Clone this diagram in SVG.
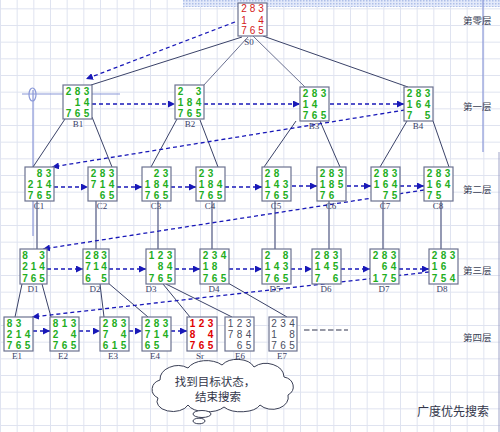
<svg xmlns="http://www.w3.org/2000/svg" width="500" height="432" viewBox="0 0 500 432">
<defs>
<pattern id="grid" patternUnits="userSpaceOnUse" x="0" y="8.33" width="16.667" height="16.667">
<path d="M0.5 0V16.667M0 0.5H16.667" fill="none" stroke="#dfe3f0" stroke-width="1"/>
</pattern>
<pattern id="dots" patternUnits="userSpaceOnUse" width="3" height="3">
<rect width="3" height="3" fill="#e4eafa"/>
<rect width="1.5" height="1.5" fill="#aebfe8"/>
</pattern>
<marker id="ah" viewBox="0 0 8 8" refX="8" refY="4" markerWidth="7" markerHeight="7" markerUnits="userSpaceOnUse" orient="auto">
<path d="M0 0L8 4L0 8z" fill="#1818b8"/>
</marker>
<style>
.box{fill:#ffffff;stroke:#6c7290;stroke-width:1.2}
.g{font-family:"Liberation Sans",Arial,sans-serif;font-size:10px;font-weight:bold;fill:#1fae1f;text-anchor:middle}
.r{font-family:"Liberation Sans",Arial,sans-serif;font-size:10px;fill:#d42020;text-anchor:middle}
.rb{font-family:"Liberation Sans",Arial,sans-serif;font-size:10px;font-weight:bold;fill:#e00000;text-anchor:middle}
.k{font-family:"Liberation Sans",Arial,sans-serif;font-size:10px;fill:#4a4e60;text-anchor:middle}
.lbl{font-family:"Liberation Serif","Times New Roman",serif;font-size:9px;fill:#3a4268;text-anchor:middle}
.layer{font-family:"Liberation Sans","Noto Sans CJK SC",sans-serif;font-size:9.5px;fill:#3a3f55}
.cjk{font-family:"Liberation Sans","Noto Sans CJK SC",sans-serif;fill:#33364a}
.dash{fill:none;stroke:#1818b8;stroke-width:1.3;stroke-dasharray:4 3;marker-end:url(#ah)}
.e1{fill:none;stroke:#3a4268;stroke-width:1}
.e2{fill:none;stroke:#6a7090;stroke-width:1}
.ev{fill:none;stroke:#7a80a0;stroke-width:1.6}
.deco{fill:none;stroke:#8a98d8;stroke-width:1.2}
</style>
</defs>
<rect width="500" height="432" fill="#ffffff"/>
<rect width="500" height="432" fill="url(#grid)"/>
<rect x="183" y="0" width="317" height="7" fill="url(#dots)"/>
<g id="decor">
<line x1="483" y1="0" x2="483" y2="152" class="deco"/>
<line x1="499" y1="152" x2="499" y2="432" stroke="#a0a4c8" stroke-width="1"/>
<line x1="22" y1="94" x2="120" y2="94" class="deco"/>
<line x1="33" y1="90" x2="33" y2="236" class="deco"/>
<ellipse cx="32.5" cy="94.5" rx="3.5" ry="6.5" class="deco"/>
</g>
<g id="connectors">
<line x1="242" y1="37" x2="91" y2="85" class="e1" stroke-width="1.3"/>
<line x1="248" y1="37" x2="203" y2="86" class="e2"/>
<line x1="253" y1="36" x2="305" y2="87" class="e2"/>
<line x1="263" y1="36" x2="408" y2="87" class="e1" stroke-width="1.3"/>
<line x1="65" y1="119" x2="33" y2="167" class="e1"/>
<line x1="92" y1="117" x2="112" y2="167" class="e1"/>
<line x1="177" y1="119" x2="151" y2="167" class="e1"/>
<line x1="200" y1="120" x2="218" y2="167" class="e1"/>
<line x1="296" y1="121" x2="264" y2="167" class="e1"/>
<line x1="320" y1="121" x2="340" y2="167" class="e1"/>
<line x1="407" y1="121" x2="380" y2="167" class="e1"/>
<line x1="433" y1="121" x2="449" y2="167" class="e1"/>
<line x1="37" y1="201" x2="37" y2="249" class="ev"/>
<line x1="96" y1="201" x2="96" y2="249" class="ev"/>
<line x1="158" y1="201" x2="158" y2="249" class="ev"/>
<line x1="212" y1="201" x2="212" y2="249" class="ev"/>
<line x1="275" y1="201" x2="275" y2="249" class="ev"/>
<line x1="329" y1="201" x2="329" y2="249" class="ev"/>
<line x1="383" y1="201" x2="383" y2="249" class="ev"/>
<line x1="441" y1="201" x2="441" y2="249" class="ev"/>
<line x1="22" y1="284" x2="15" y2="317" class="e1"/>
<line x1="42" y1="284" x2="51" y2="317" class="e1"/>
<line x1="100" y1="284" x2="104" y2="317" class="e1"/>
<line x1="107" y1="282" x2="148" y2="317" class="e1"/>
<line x1="163" y1="284" x2="190" y2="317" class="e1"/>
<line x1="166" y1="284" x2="232" y2="317" class="e1"/>
<line x1="228" y1="283" x2="287" y2="317" class="e1"/>
<path d="M235 22L86 79" class="dash"/>
<path d="M92 104H175" class="dash"/>
<path d="M204 104H300" class="dash"/>
<path d="M330 104H404" class="dash"/>
<path d="M405 110L52 167" class="dash"/>
<path d="M54 187H88" class="dash"/>
<path d="M117 187H142" class="dash"/>
<path d="M171 187H196" class="dash"/>
<path d="M225 187H262" class="dash"/>
<path d="M292 186H317" class="dash"/>
<path d="M347 186H371" class="dash"/>
<path d="M400 186H424" class="dash"/>
<path d="M424 190L43 249" class="dash"/>
<path d="M47 269H83" class="dash"/>
<path d="M109 269H146" class="dash"/>
<path d="M175 269H200" class="dash"/>
<path d="M229 269H262" class="dash"/>
<path d="M291 269H312" class="dash"/>
<path d="M341 269H370" class="dash"/>
<path d="M399 269H429" class="dash"/>
<path d="M429 272L32 317" class="dash"/>
<path d="M33 331H50" class="dash"/>
<path d="M79 331H100" class="dash"/>
<path d="M129 331H142" class="dash"/>
<path d="M171 331H187" class="dash"/>
<line x1="304" y1="330" x2="348" y2="330" stroke="#30344e" stroke-width="1.1" stroke-dasharray="5.5 2.5"/>
</g>
<g id="S0"><rect x="238" y="3" width="29" height="33" class="box"/>
<text class="r" x="244 252.5 261" y="12">283</text><text class="r" x="244 261" y="23.5">14</text><text class="r" x="244 252.5 261" y="34">765</text>
<text class="lbl" x="249" y="45" font-size="8.5">S0</text></g>
<g id="B1"><rect x="63" y="85" width="29" height="34" class="box"/>
<text class="g" x="68.5 77.5 86.5" y="94.5">283</text><text class="g" x="77.5 86.5" y="106">14</text><text class="g" x="68.5 77.5 86.5" y="117">765</text>
<text class="lbl" x="78" y="127">B1</text></g>
<g id="B2"><rect x="175" y="85" width="29" height="34" class="box"/>
<text class="g" x="180.5 198.5" y="94.5">23</text><text class="g" x="180.5 189.5 198.5" y="106">184</text><text class="g" x="180.5 189.5 198.5" y="117">765</text>
<text class="lbl" x="190" y="127">B2</text></g>
<g id="B3"><rect x="300" y="87" width="29" height="34" class="box"/>
<text class="g" x="305.5 314.5 323.5" y="96.5">283</text><text class="g" x="305.5 314.5" y="108">14</text><text class="g" x="305.5 314.5 323.5" y="119">765</text>
<text class="lbl" x="314" y="129">B3</text></g>
<g id="B4"><rect x="404" y="87" width="29" height="34" class="box"/>
<text class="g" x="409.5 418.5 427.5" y="96.5">283</text><text class="g" x="409.5 418.5 427.5" y="108">164</text><text class="g" x="409.5 427.5" y="119">75</text>
<text class="lbl" x="418" y="129">B4</text></g>
<g id="C1"><rect x="25" y="167" width="29" height="34" class="box"/>
<text class="g" x="39.5 48.5" y="176.5">83</text><text class="g" x="30.5 39.5 48.5" y="188">214</text><text class="g" x="30.5 39.5 48.5" y="199">765</text>
<text class="lbl" x="39" y="209">C1</text></g>
<g id="C2"><rect x="88" y="167" width="29" height="34" class="box"/>
<text class="g" x="93.5 102.5 111.5" y="176.5">283</text><text class="g" x="93.5 102.5 111.5" y="188">714</text><text class="g" x="102.5 111.5" y="199">65</text>
<text class="lbl" x="102" y="209">C2</text></g>
<g id="C3"><rect x="142" y="167" width="29" height="34" class="box"/>
<text class="g" x="156.5 165.5" y="176.5">23</text><text class="g" x="147.5 156.5 165.5" y="188">184</text><text class="g" x="147.5 156.5 165.5" y="199">765</text>
<text class="lbl" x="156" y="209">C3</text></g>
<g id="C4"><rect x="196" y="167" width="29" height="34" class="box"/>
<text class="g" x="201.5 210.5" y="176.5">23</text><text class="g" x="201.5 210.5 219.5" y="188">184</text><text class="g" x="201.5 210.5 219.5" y="199">765</text>
<text class="lbl" x="210" y="209">C4</text></g>
<g id="C5"><rect x="262" y="167" width="29" height="34" class="box"/>
<text class="g" x="267.5 276.5" y="176.5">28</text><text class="g" x="267.5 276.5 285.5" y="188">143</text><text class="g" x="267.5 276.5 285.5" y="199">765</text>
<text class="lbl" x="276" y="209">C5</text></g>
<g id="C6"><rect x="317" y="167" width="29" height="34" class="box"/>
<text class="g" x="322.5 331.5 340.5" y="176.5">283</text><text class="g" x="322.5 331.5 340.5" y="188">185</text><text class="g" x="322.5 331.5" y="199">76</text>
<text class="lbl" x="331" y="209">C6</text></g>
<g id="C7"><rect x="371" y="167" width="29" height="34" class="box"/>
<text class="g" x="376.5 385.5 394.5" y="176.5">283</text><text class="g" x="376.5 385.5 394.5" y="188">164</text><text class="g" x="385.5 394.5" y="199">75</text>
<text class="lbl" x="385" y="209">C7</text></g>
<g id="C8"><rect x="424" y="167" width="29" height="34" class="box"/>
<text class="g" x="429.5 438.5 447.5" y="176.5">283</text><text class="g" x="429.5 438.5 447.5" y="188">164</text><text class="g" x="429.5 438.5" y="199">75</text>
<text class="lbl" x="438" y="209">C8</text></g>
<g id="D1"><rect x="20" y="249" width="27" height="35" class="box"/>
<text class="g" x="25 42" y="258.5">83</text><text class="g" x="25 33.5 42" y="270">214</text><text class="g" x="25 33.5 42" y="281.5">765</text>
<text class="lbl" x="33" y="292">D1</text></g>
<g id="D2"><rect x="83" y="249" width="26" height="35" class="box"/>
<text class="g" x="88 96 104" y="258.5">283</text><text class="g" x="88 96 104" y="270">714</text><text class="g" x="88 104" y="281.5">65</text>
<text class="lbl" x="95" y="292">D2</text></g>
<g id="D3"><rect x="146" y="249" width="29" height="35" class="box"/>
<text class="g" x="151.5 160.5 169.5" y="258.5">123</text><text class="g" x="160.5 169.5" y="270">84</text><text class="g" x="151.5 160.5 169.5" y="281.5">765</text>
<text class="lbl" x="151" y="292">D3</text></g>
<g id="D4"><rect x="200" y="249" width="29" height="35" class="box"/>
<text class="g" x="205.5 214.5 223.5" y="258.5">234</text><text class="g" x="205.5 214.5" y="270">18</text><text class="g" x="205.5 214.5 223.5" y="281.5">765</text>
<text class="lbl" x="214" y="292">D4</text></g>
<g id="D5"><rect x="262" y="249" width="29" height="35" class="box"/>
<text class="g" x="267.5 285.5" y="258.5">28</text><text class="g" x="267.5 276.5 285.5" y="270">143</text><text class="g" x="267.5 276.5 285.5" y="281.5">765</text>
<text class="lbl" x="275" y="292">D5</text></g>
<g id="D6"><rect x="312" y="249" width="29" height="35" class="box"/>
<text class="g" x="317.5 326.5 335.5" y="258.5">283</text><text class="g" x="317.5 326.5 335.5" y="270">145</text><text class="g" x="317.5 335.5" y="281.5">76</text>
<text class="lbl" x="326" y="292">D6</text></g>
<g id="D7"><rect x="370" y="249" width="29" height="35" class="box"/>
<text class="g" x="375.5 384.5 393.5" y="258.5">283</text><text class="g" x="384.5 393.5" y="270">64</text><text class="g" x="375.5 384.5 393.5" y="281.5">175</text>
<text class="lbl" x="384" y="292">D7</text></g>
<g id="D8"><rect x="429" y="249" width="29" height="35" class="box"/>
<text class="g" x="434.5 443.5 452.5" y="258.5">283</text><text class="g" x="434.5 443.5" y="270">16</text><text class="g" x="434.5 443.5 452.5" y="281.5">754</text>
<text class="lbl" x="442" y="292">D8</text></g>
<g id="E1"><rect x="4" y="317" width="29" height="34" class="box"/>
<text class="g" x="9.5 18.5" y="326.5">83</text><text class="g" x="9.5 18.5 27.5" y="338">214</text><text class="g" x="9.5 18.5 27.5" y="349">765</text>
<text class="lbl" x="17" y="359">E1</text></g>
<g id="E2"><rect x="50" y="317" width="29" height="34" class="box"/>
<text class="g" x="55.5 64.5 73.5" y="326.5">813</text><text class="g" x="55.5 73.5" y="338">24</text><text class="g" x="55.5 64.5 73.5" y="349">765</text>
<text class="lbl" x="63" y="359">E2</text></g>
<g id="E3"><rect x="100" y="317" width="29" height="34" class="box"/>
<text class="g" x="105.5 114.5 123.5" y="326.5">283</text><text class="g" x="105.5 123.5" y="338">74</text><text class="g" x="105.5 114.5 123.5" y="349">615</text>
<text class="lbl" x="113" y="359">E3</text></g>
<g id="E4"><rect x="142" y="317" width="29" height="34" class="box"/>
<text class="g" x="147.5 156.5 165.5" y="326.5">283</text><text class="g" x="147.5 156.5 165.5" y="338">714</text><text class="g" x="147.5 156.5" y="349">65</text>
<text class="lbl" x="155" y="359">E4</text></g>
<g id="Sr"><rect x="187" y="317" width="30" height="34" class="box"/>
<text class="rb" x="192.5 201.5 210.5" y="326.5">123</text><text class="rb" x="192.5 210.5" y="338">84</text><text class="rb" x="192.5 201.5 210.5" y="349">765</text>
<text class="lbl" x="200" y="359">Sr</text></g>
<g id="E6"><rect x="225" y="317" width="29" height="34" class="box"/>
<text class="k" x="230.5 239.5 248.5" y="326.5">123</text><text class="k" x="230.5 239.5 248.5" y="338">784</text><text class="k" x="239.5 248.5" y="349">65</text>
<text class="lbl" x="240" y="359">E6</text></g>
<g id="E7"><rect x="269" y="317" width="28" height="34" class="box"/>
<text class="k" x="274 283 292" y="326.5">234</text><text class="k" x="274 292" y="338">18</text><text class="k" x="274 283 292" y="349">765</text>
<text class="lbl" x="282" y="359">E7</text></g>
<g id="layers">
<text class="layer" x="463" y="24">第零层</text>
<text class="layer" x="463" y="110">第一层</text>
<text class="layer" x="463" y="193">第二层</text>
<text class="layer" x="463" y="274">第三层</text>
<text class="layer" x="463" y="341">第四层</text>
<text class="cjk" x="417" y="416" font-size="12">广度优先搜索</text>
</g>
<g id="cloud">
<path d="M158 398a12 10 0 0 1 2-18a18 14 0 0 1 28-12a20 12 0 0 1 34-3a18 12 0 0 1 32 2a18 14 0 0 1 30 10a12 10 0 0 1 4 18a16 12 0 0 1-28 10a20 10 0 0 1-36 2a20 10 0 0 1-36-2a16 10 0 0 1-30-7z" fill="#ffffff" stroke="#3a3f55" stroke-width="1"/>
<ellipse cx="202" cy="414" rx="9" ry="3.5" fill="#ffffff" stroke="#3a3f55" stroke-width="1"/>
<ellipse cx="199" cy="421" rx="6" ry="2.8" fill="#ffffff" stroke="#3a3f55" stroke-width="1"/>
<text class="cjk" x="215" y="386" font-size="11.5" text-anchor="middle">找到目标状态，</text>
<text class="cjk" x="218" y="401" font-size="11.5" text-anchor="middle">结束搜索</text>
</g>
</svg>
